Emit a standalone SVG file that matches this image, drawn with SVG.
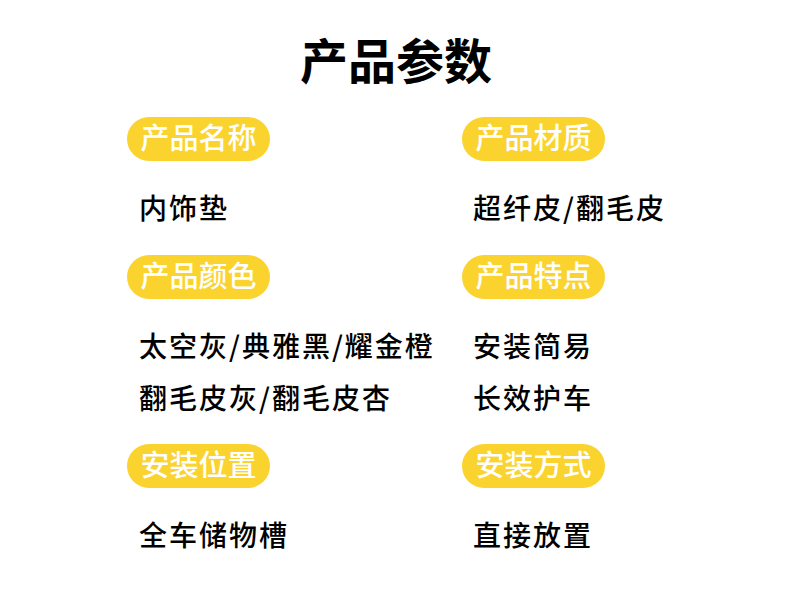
<svg xmlns="http://www.w3.org/2000/svg" width="790" height="603" viewBox="0 0 790 603">
<style>
.title{font-family:"Noto Sans CJK SC","Noto Sans",sans-serif;font-size:48px;font-weight:700;fill:#000}
.pill{fill:#FBD32F}
.pt{font-family:"Noto Sans CJK SC","Noto Sans",sans-serif;font-size:29px;font-weight:500;fill:#fff}
.bt{font-family:"Noto Sans CJK SC","Noto Sans",sans-serif;font-size:28px;font-weight:500;fill:#000;letter-spacing:2px}
</style>
<rect width="790" height="603" fill="#fff"/>
<text class="title" x="396" y="79" text-anchor="middle">产品参数</text>
<g id="name">
<rect class="pill" x="127" y="117" width="143" height="44" rx="22"/>
<text class="pt" x="198.5" y="149" text-anchor="middle">产品名称</text>
<text class="bt" x="139" y="219">内饰垫</text>
</g>
<g id="material">
<rect class="pill" x="462" y="117" width="143" height="44" rx="22"/>
<text class="pt" x="533.5" y="149" text-anchor="middle">产品材质</text>
<text class="bt" x="473" y="219">超纤皮/翻毛皮</text>
</g>
<g id="color">
<rect class="pill" x="127" y="255" width="143" height="44" rx="22"/>
<text class="pt" x="198.5" y="287" text-anchor="middle">产品颜色</text>
<text class="bt" x="139" y="357">太空灰/典雅黑/耀金橙</text>
<text class="bt" x="139" y="409">翻毛皮灰/翻毛皮杏</text>
</g>
<g id="feature">
<rect class="pill" x="462" y="255" width="143" height="44" rx="22"/>
<text class="pt" x="533.5" y="287" text-anchor="middle">产品特点</text>
<text class="bt" x="473" y="357">安装简易</text>
<text class="bt" x="473" y="409">长效护车</text>
</g>
<g id="position">
<rect class="pill" x="127" y="444" width="143" height="44" rx="22"/>
<text class="pt" x="198.5" y="476" text-anchor="middle">安装位置</text>
<text class="bt" x="139" y="546">全车储物槽</text>
</g>
<g id="method">
<rect class="pill" x="462" y="444" width="143" height="44" rx="22"/>
<text class="pt" x="533.5" y="476" text-anchor="middle">安装方式</text>
<text class="bt" x="473" y="546">直接放置</text>
</g>
</svg>
